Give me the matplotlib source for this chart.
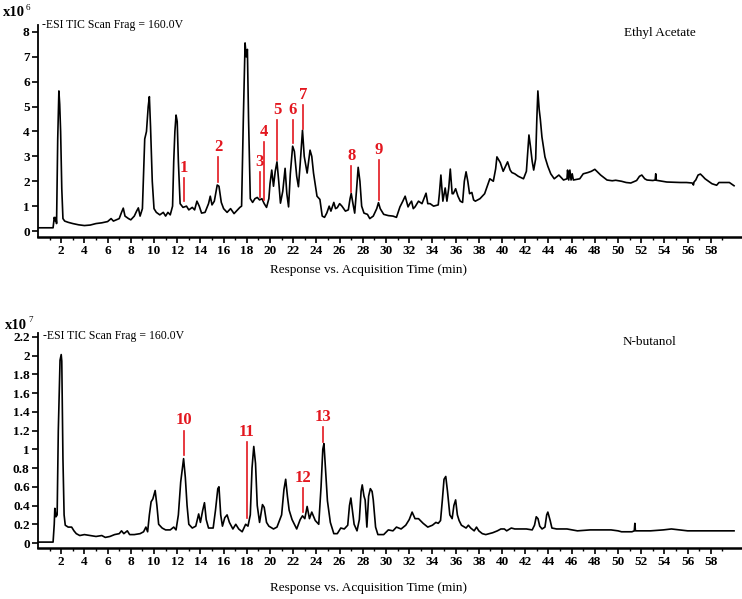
import numpy as np
import matplotlib
matplotlib.use("Agg")
import matplotlib.pyplot as plt

plt.rcParams['font.family'] = ['Liberation Serif', 'DejaVu Serif']

# Ethyl acetate fraction, TIC (x10^6) vs time (min)
ea_time = [0.0, 1.3, 1.4, 1.5, 1.55, 1.6, 1.7, 1.8, 1.87, 1.95, 2.05, 2.15, 2.3, 2.6, 3.0, 3.5,
           4.0, 4.5, 5.0, 5.5, 6.0, 6.3, 6.5, 7.0, 7.2, 7.35, 7.5, 7.8, 8.0, 8.3, 8.5, 8.65, 8.8,
           9.0, 9.2, 9.35, 9.5, 9.6, 9.7, 9.85, 10.0, 10.2, 10.5, 10.8, 11.0, 11.2, 11.4, 11.6,
           11.7, 11.8, 11.9, 12.0, 12.1, 12.25, 12.5, 12.8, 13.0, 13.3, 13.5, 13.7, 13.9, 14.1,
           14.4, 14.7, 14.85, 15.0, 15.2, 15.45, 15.6, 15.8, 16.0, 16.3, 16.6, 16.9, 17.2, 17.4,
           17.55, 17.7, 17.85, 17.95, 18.05, 18.15, 18.3, 18.5, 18.7, 18.9, 19.1, 19.3, 19.5,
           19.7, 19.9, 20.0, 20.15, 20.3, 20.45, 20.6, 20.75, 20.9, 21.1, 21.3, 21.45, 21.6,
           21.75, 21.95, 22.1, 22.3, 22.45, 22.6, 22.8, 22.95, 23.2, 23.45, 23.6, 23.75, 24.05,
           24.3, 24.5, 24.7, 24.9, 25.1, 25.25, 25.5, 25.65, 25.8, 26.0, 26.2, 26.5, 26.75, 26.9,
           27.0, 27.15, 27.3, 27.45, 27.6, 27.75, 27.9, 28.1, 28.4, 28.6, 28.9, 29.2, 29.35,
           29.5, 29.8, 30.2, 30.6, 30.9, 31.2, 31.45, 31.65, 31.9, 32.05, 32.2, 32.35, 32.5,
           32.8, 33.1, 33.45, 33.6, 33.8, 34.1, 34.5, 34.6, 34.73, 34.9, 35.1, 35.25, 35.4,
           35.54, 35.7, 35.8, 36.0, 36.2, 36.4, 36.6, 36.75, 36.9, 37.05, 37.2, 37.4, 37.55,
           37.7, 38.1, 38.5, 38.95, 39.25, 39.45, 39.56, 39.85, 40.1, 40.3, 40.48, 40.7, 40.85,
           41.1, 41.4, 41.85, 42.1, 42.25, 42.32, 42.45, 42.6, 42.73, 42.9, 43.0, 43.09, 43.2,
           43.3, 43.44, 43.7, 43.95, 44.2, 44.5, 44.9, 45.3, 45.6, 45.65, 45.75, 45.85, 45.95,
           46.05, 46.15, 46.7, 47.0, 47.4, 47.7, 48.0, 48.5, 49.05, 49.5, 49.8, 50.3, 50.7,
           51.1, 51.6, 51.85, 52.05, 52.3, 52.5, 53.0, 53.2, 53.25, 53.3, 53.8, 54.2, 54.8,
           55.4, 55.9, 56.4, 56.5, 56.55, 56.7, 56.9, 57.1, 57.3, 57.5, 57.8, 58.1, 58.5, 58.7,
           59.2, 59.6, 60.0]
ea_signal = [0.13, 0.13, 0.55, 0.4, 0.55, 0.3, 3.7, 5.63, 5.1, 4.0, 1.7, 0.5, 0.4, 0.35, 0.3, 0.25,
             0.22, 0.24, 0.3, 0.33, 0.38, 0.5, 0.4, 0.5, 0.75, 0.92, 0.6, 0.5, 0.45, 0.6, 0.8, 0.93, 0.6,
             0.9, 3.7, 4.0, 5.0, 5.4, 4.2, 2.0, 0.9, 0.75, 0.65, 0.75, 0.6, 0.75, 0.65, 1.0,
             2.8, 4.0, 4.66, 4.4, 2.8, 1.1, 0.95, 1.0, 0.85, 0.95, 0.85, 1.2, 1.0, 0.72,
             0.75, 1.1, 1.4, 1.05, 1.2, 1.85, 1.8, 1.15, 0.9, 0.75, 0.9, 0.7, 0.85, 0.95,
             1.0, 4.5, 7.56, 7.0, 7.3, 4.5, 1.3, 1.15, 1.3, 1.35, 1.25, 1.3, 1.1,
             0.95, 1.3, 1.9, 2.45, 1.8, 2.4, 2.78, 2.0, 1.12, 1.6, 2.52, 1.5, 0.97,
             2.3, 3.41, 3.2, 2.2, 1.78, 2.7, 4.05, 3.0, 2.33, 3.25, 3.0, 2.33, 1.4,
             1.27, 0.6, 0.55, 0.73, 1.0, 0.8, 1.15, 0.9, 0.94, 1.1, 1.0, 0.8, 0.85, 1.3,
             1.51, 1.1, 0.72, 1.6, 2.56, 2.0, 1.0, 0.72, 0.67, 0.5, 0.6, 0.9, 1.14,
             0.9, 0.67, 0.62, 0.6, 0.55, 0.97, 1.2, 1.4, 0.97, 1.1, 1.2, 0.9, 0.97,
             1.2, 1.1, 1.52, 1.1, 1.1, 1.0, 1.05, 1.5, 2.25, 1.2, 1.73, 1.2, 1.7,
             2.49, 1.5, 1.5, 1.7, 1.4, 1.2, 1.15, 2.0, 2.38, 2.0, 1.5, 1.55, 1.25,
             1.2, 1.3, 1.5, 2.1, 2.0, 2.5, 2.98, 2.75, 2.4, 2.6, 2.78, 2.45, 2.35,
             2.3, 2.2, 2.1, 2.4, 3.4, 3.86, 3.4, 2.8, 2.45, 2.9, 4.5, 5.63, 4.9,
             4.5, 3.78, 2.98, 2.6, 2.3, 2.1, 2.25, 2.05, 2.1, 2.45, 2.05, 2.45, 2.05,
             2.3, 2.05, 2.1, 2.3, 2.35, 2.4, 2.48, 2.25, 2.05, 2.02, 2.04, 2.0, 1.95,
             1.93, 2.03, 2.2, 2.25, 2.1, 2.05, 2.03, 2.05, 2.3, 2.04, 2.0, 1.97, 1.96,
             1.95, 1.95, 1.93, 1.85, 1.97, 2.05, 2.25, 2.29, 2.2, 2.1, 2.0, 1.9, 1.84, 1.95,
             1.95, 1.95, 1.82]

# N-butanol fraction, TIC (x10^7) vs time (min)
nb_time = [0.0, 1.3, 1.4, 1.45, 1.55, 1.65, 1.75, 1.9, 2.0, 2.05, 2.15, 2.25, 2.35, 2.6, 2.9, 3.1,
           3.3, 3.6, 4.0, 4.5, 5.0, 5.5, 5.8, 6.2, 6.6, 7.0, 7.2, 7.4, 7.7, 7.9, 8.3, 8.8, 9.1,
           9.3, 9.45, 9.6, 9.75, 9.9, 10.1, 10.25, 10.4, 10.7, 11.0, 11.4, 11.7, 11.9, 12.1,
           12.3, 12.55, 12.7, 12.85, 13.0, 13.3, 13.6, 13.85, 14.0, 14.2, 14.35, 14.5, 14.7,
           15.1, 15.3, 15.5, 15.6, 15.75, 15.9, 16.1, 16.3, 16.5, 16.8, 17.05, 17.3, 17.6, 17.9,
           18.1, 18.3, 18.45, 18.6, 18.75, 18.9, 19.1, 19.35, 19.5, 19.7, 19.9, 20.3, 20.6,
           21.0, 21.2, 21.35, 21.5, 21.65, 21.9, 22.3, 22.6, 22.8, 23.0, 23.2, 23.4, 23.6, 23.9,
           24.2, 24.4, 24.55, 24.65, 24.8, 24.95, 25.2, 25.5, 25.8, 26.1, 26.4, 26.7, 26.85,
           26.97, 27.1, 27.25, 27.5, 27.7, 27.85, 27.95, 28.1, 28.2, 28.35, 28.5, 28.65, 28.8,
           28.9, 29.1, 29.3, 29.8, 30.2, 30.6, 30.9, 31.3, 31.7, 32.0, 32.25, 32.5, 32.8, 33.2,
           33.6, 34.0, 34.3, 34.5, 34.7, 34.85, 35.0, 35.15, 35.3, 35.5, 35.7, 35.85, 36.0,
           36.15, 36.3, 36.5, 36.9, 37.1, 37.3, 37.6, 37.8, 38.0, 38.3, 38.6, 39.2, 39.6, 39.9,
           40.2, 40.4, 40.8, 41.1, 41.5, 42.1, 42.6, 42.8, 42.95, 43.1, 43.25, 43.45, 43.7,
           43.85, 43.95, 44.15, 44.3, 44.7, 45.6, 46.5, 47.6, 48.5, 49.4, 50.0, 50.3, 51.2,
           51.4, 51.45, 51.5, 52.0, 52.8, 53.9, 54.6, 55.3, 56.0, 57.0, 58.5, 60.0]
nb_signal = [0.01, 0.01, 0.2, 0.37, 0.28, 0.3, 1.2, 1.95, 2.01, 1.94, 0.9, 0.3, 0.19, 0.17, 0.17, 0.13,
             0.1, 0.08, 0.09, 0.08, 0.07, 0.08, 0.06, 0.07, 0.09, 0.1, 0.13, 0.1, 0.13, 0.09, 0.09, 0.1, 0.12,
             0.17, 0.12, 0.3, 0.44, 0.47, 0.56, 0.4, 0.2, 0.16, 0.14, 0.14, 0.17, 0.14, 0.3,
             0.65, 0.9, 0.7, 0.4, 0.2, 0.16, 0.18, 0.31, 0.22, 0.35, 0.43, 0.25, 0.16,
             0.16, 0.35, 0.58, 0.6, 0.3, 0.18, 0.27, 0.3, 0.22, 0.15, 0.2, 0.15, 0.12, 0.2,
             0.18, 0.3, 0.8, 1.03, 0.85, 0.4, 0.22, 0.41, 0.38, 0.22, 0.18, 0.15, 0.17,
             0.3, 0.57, 0.68, 0.5, 0.35, 0.25, 0.15, 0.25, 0.29, 0.26, 0.39, 0.26, 0.33, 0.24,
             0.2, 0.6, 1.0, 1.06, 0.75, 0.45, 0.22, 0.1, 0.1, 0.16, 0.15, 0.19, 0.4,
             0.48, 0.35, 0.2, 0.13, 0.25, 0.55, 0.62, 0.5, 0.46, 0.17, 0.5, 0.58, 0.55,
             0.46, 0.17, 0.09, 0.09, 0.14, 0.13, 0.17, 0.15, 0.19, 0.25, 0.33, 0.26, 0.26, 0.21,
             0.17, 0.19, 0.22, 0.21, 0.24, 0.45, 0.68, 0.71, 0.55, 0.3, 0.26, 0.4, 0.46,
             0.3, 0.24, 0.19, 0.16, 0.19, 0.16, 0.13, 0.17, 0.13, 0.1, 0.09, 0.11, 0.13, 0.15,
             0.15, 0.13, 0.16, 0.15, 0.15, 0.15, 0.14, 0.19, 0.28, 0.26, 0.18, 0.15, 0.17,
             0.3, 0.33, 0.24, 0.16, 0.15, 0.15, 0.13, 0.14, 0.14, 0.14, 0.13, 0.12, 0.12,
             0.13, 0.21, 0.13, 0.13, 0.13, 0.14, 0.15, 0.14, 0.13, 0.13, 0.13, 0.13]

# peak labels: name, time, line bottom, line top
ea_peaks = ['1', '2', '3', '4', '5', '6', '7', '8', '9']
ea_peak_time = [12.55, 15.53, 19.13, 19.5, 20.62, 21.97, 22.83, 27.0, 29.36]
ea_line_lo = [1.2, 1.98, 1.38, 1.25, 2.85, 3.52, 4.12, 1.58, 1.24]
ea_line_hi = [2.13, 2.98, 2.38, 3.59, 4.46, 4.46, 5.06, 2.61, 2.85]

nb_peaks = ['10', '11', '12', '13']
nb_peak_time = [12.6, 18.0, 22.83, 24.59]
nb_line_lo = [0.94, 0.27, 0.33, 1.08]
nb_line_hi = [1.2, 1.08, 0.59, 1.24]

W, H = 742, 599
fig = plt.figure(figsize=(W / 100, H / 100), dpi=100)

def px(x, y):
    return x / W, 1 - y / H

red = '#e3171f'
tick_font = dict(family='Liberation Serif', weight='bold', size=9.5)

def setup(ax, yticks, ylabels, ylim):
    ax.set_xlim(0, 60.6)
    ax.set_ylim(*ylim)
    for s in ['top', 'right']:
        ax.spines[s].set_visible(False)
    ax.spines['left'].set_linewidth(1.3)
    ax.spines['bottom'].set_linewidth(1.8)
    ax.set_xticks(np.arange(2, 60, 2))
    ax.set_xticks(np.arange(1, 60, 2), minor=True)
    ax.set_xticklabels([str(v) for v in np.arange(2, 60, 2)], fontdict=tick_font)
    ax.set_yticks(yticks)
    ax.set_yticklabels(ylabels, fontdict=tick_font)
    ax.tick_params(axis='both', which='major', length=4, width=1.2, pad=2)
    ax.tick_params(axis='x', which='minor', length=2, width=1)
    ax.patch.set_alpha(0)

def label_peaks(ax, names, times, lo, hi):
    for n, t, a, b in zip(names, times, lo, hi):
        ax.plot([t, t], [a, b], color=red, lw=1.2)
        ax.annotate(n, (t, b), xytext=(0, 1.5), textcoords='offset points',
                    ha='center', va='bottom', color=red, fontsize=12, fontweight='bold',
                    family='Liberation Serif')

# top panel
l, b = px(38, 237)
_, t = px(0, 25)
ax1 = fig.add_axes([l, b, 703 / W, t - b])
ax1.plot(ea_time, ea_signal, color='black', lw=1.2)
setup(ax1, range(0, 9), [str(v) for v in range(0, 9)], (-0.24, 8.28))
label_peaks(ax1, ea_peaks, ea_peak_time, ea_line_lo, ea_line_hi)

# bottom panel
l, b = px(38, 548)
_, t = px(0, 333)
ax2 = fig.add_axes([l, b, 703 / W, t - b])
ax2.plot(nb_time, nb_signal, color='black', lw=1.2)
nb_ticks = [0, 0.2, 0.4, 0.6, 0.8, 1, 1.2, 1.4, 1.6, 1.8, 2, 2.2]
nb_ticklabels = ['0', '0.2', '0.4', '0.6', '0.8', '1', '1.2', '1.4', '1.6', '1.8', '2', '2.2']
setup(ax2, nb_ticks, nb_ticklabels, (-0.053, 2.24))
label_peaks(ax2, nb_peaks, nb_peak_time, nb_line_lo, nb_line_hi)

# scale factors and headers
fig.text(*px(3, 13), 'x10', fontsize=10.5, fontweight='bold', va='center', ha='left')
fig.text(*px(26, 8), '6', fontsize=6.5, va='center', ha='left')
fig.text(*px(5, 325), 'x10', fontsize=10.5, fontweight='bold', va='center', ha='left')
fig.text(*px(28, 320), '7', fontsize=6.5, va='center', ha='left')

fig.text(*px(42, 25), '-ESI TIC Scan Frag = 160.0V', fontsize=8.5, va='center', ha='left')
fig.text(*px(43, 336), '-ESI TIC Scan Frag = 160.0V', fontsize=8.5, va='center', ha='left')

fig.text(*px(660, 33), 'Ethyl Acetate', fontsize=9.5, va='center', ha='center')
fig.text(*px(649, 342), 'N-butanol', fontsize=9.5, va='center', ha='center')

fig.text(*px(368, 270), 'Response vs. Acquisition Time (min)', fontsize=9.5, va='center', ha='center')
fig.text(*px(368, 588), 'Response vs. Acquisition Time (min)', fontsize=9.5, va='center', ha='center')

fig.savefig('out.png', dpi=100)
